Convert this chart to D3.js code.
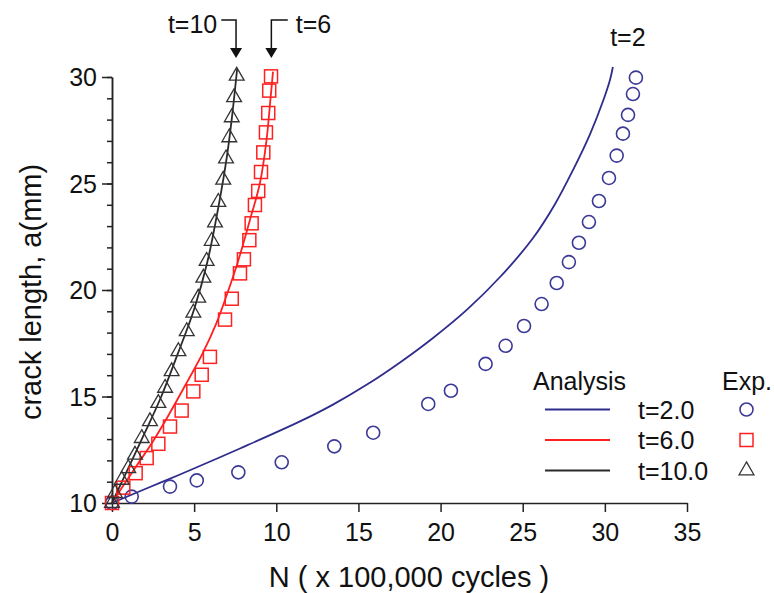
<!DOCTYPE html>
<html>
<head>
<meta charset="utf-8">
<script src="https://cdn.jsdelivr.net/npm/d3@7"></script>
<style>
  body { margin: 0; background: #fff; }
  text { font-family: "Liberation Sans", Arial, sans-serif; fill: #111; }
</style>
</head>
<body>
<div id="chart"></div>
<script>
// experimental points, N in 100,000 cycles, a in mm
var expT2N = [0, 1.20, 3.53, 5.16, 7.69, 10.33, 13.53, 15.90, 19.25, 20.63, 22.74, 23.96, 25.08, 26.15, 27.07, 27.81, 28.42, 29.03, 29.64, 30.25, 30.72, 31.10, 31.41, 31.71, 31.89]
var expT2A = [10, 10.30, 10.77, 11.06, 11.44, 11.91, 12.66, 13.30, 14.65, 15.27, 16.53, 17.38, 18.31, 19.34, 20.33, 21.31, 22.22, 23.19, 24.18, 25.26, 26.31, 27.34, 28.22, 29.20, 29.97]

var expT6N = [0, 0.69, 1.44, 2.11, 2.82, 3.53, 4.24, 4.95, 5.46, 5.96, 6.88, 7.29, 7.79, 8.03, 8.36, 8.50, 8.70, 8.90, 9.07, 9.21, 9.37, 9.51, 9.57, 9.68]
var expT6A = [10, 10.72, 11.40, 12.11, 12.78, 13.59, 14.34, 15.24, 16.02, 16.86, 18.61, 19.59, 20.78, 21.44, 22.34, 23.13, 23.99, 24.65, 25.54, 26.46, 27.40, 28.31, 29.36, 30.03]

var expT10N = [0, 0.18, 0.59, 0.99, 1.40, 1.81, 2.31, 2.82, 3.23, 3.63, 4.04, 4.55, 4.95, 5.25, 5.56, 5.76, 6.07, 6.27, 6.47, 6.77, 6.94, 7.14, 7.29, 7.43, 7.59]
var expT10A = [10, 10.46, 11.08, 11.63, 12.26, 13.04, 13.83, 14.69, 15.40, 16.18, 17.12, 18.06, 18.93, 19.63, 20.57, 21.36, 22.30, 23.16, 24.13, 25.17, 26.17, 27.16, 28.10, 29.04, 30.05]

// analysis curves
var anT2N = [0, 2.31, 4.14, 7.79, 11.44, 13.45, 15.52, 17.53, 19.54, 21.61, 23.62, 25.63, 26.97, 28.06, 29.10, 29.89, 30.31, 30.49]
var anT2A = [10, 10.75, 11.34, 12.56, 13.83, 14.62, 15.56, 16.60, 17.75, 19.08, 20.61, 22.44, 24.04, 25.63, 27.32, 28.87, 29.86, 30.47]

var anT6N = [0, 0.5, 1.5, 2.5, 3.5, 4.55, 5.5, 6.37, 7.0, 7.67, 8.4, 9.0, 9.4, 9.65, 9.8]
var anT6A = [10, 10.6, 11.75, 12.9, 14.2, 15.65, 17.0, 18.47, 19.8, 21.34, 23.3, 25.0, 27.0, 29.0, 30.25]

var anT10N = [0, 1.0, 2.0, 3.0, 4.0, 5.0, 5.8, 6.5, 7.0, 7.3, 7.62]
var anT10A = [10, 11.65, 13.3, 15.0, 17.0, 19.1, 21.3, 24.0, 26.3, 28.1, 30.4]

var xTicks = [0, 5, 10, 15, 20, 25, 30, 35]
var yTicks = [10, 15, 20, 25, 30]
var legendLabels = ["t=2.0", "t=6.0", "t=10.0"]

var blue = "#2f2c8c", red = "#ff2020", dark = "#2a2a2a"

function zip(n, a) {
    return n.map(function(d, i) { return [d, a[i]] })
}

var width = 774, height = 593

var svg = d3.select("#chart").append("svg")
    .attr("width", width)
    .attr("height", height)

var x = d3.scaleLinear().domain([0, 35]).range([112, 687])
var y = d3.scaleLinear().domain([10, 30]).range([503, 77])

// axes
var xAxis = svg.append("g")
    .attr("transform", "translate(0," + y(10) + ")")
    .call(d3.axisBottom(x).tickValues(xTicks).tickSize(9).tickSizeOuter(0).tickPadding(11))
xAxis.selectAll("text").style("font-size", "25px")

svg.append("g")
    .attr("transform", "translate(" + x(0) + ",0)")
    .call(d3.axisLeft(y).tickValues(d3.range(10, 31, 1)).tickSize(5).tickSizeOuter(0).tickFormat(""))

var yAxis = svg.append("g")
    .attr("transform", "translate(" + x(0) + ",0)")
    .call(d3.axisLeft(y).tickValues(yTicks).tickSize(10).tickSizeOuter(0).tickPadding(5))
yAxis.selectAll("text").style("font-size", "25px").attr("dy", "0.35em")

svg.selectAll(".domain, .tick line")
    .attr("stroke", "#222")
    .attr("stroke-width", 1.5)

// axis titles
svg.append("text")
    .attr("x", 409)
    .attr("y", 587)
    .attr("text-anchor", "middle")
    .style("font-size", "29px")
    .text("N ( x 100,000 cycles )")

svg.append("text")
    .attr("transform", "translate(41,292) rotate(-90)")
    .attr("text-anchor", "middle")
    .style("font-size", "29px")
    .text("crack length, a(mm)")

// analysis lines
var line = d3.line()
    .x(function(d) { return x(d[0]) })
    .y(function(d) { return y(d[1]) })
    .curve(d3.curveCatmullRom)

var curves = [
    { data: zip(anT2N, anT2A), color: blue },
    { data: zip(anT6N, anT6A), color: red },
    { data: zip(anT10N, anT10A), color: dark }
]

svg.selectAll(".curve")
    .data(curves)
    .enter().append("path")
    .attr("class", "curve")
    .attr("d", function(d) { return line(d.data) })
    .attr("fill", "none")
    .attr("stroke", function(d) { return d.color })
    .attr("stroke-width", 1.8)

// experimental markers
svg.selectAll(".c2")
    .data(zip(expT2N, expT2A))
    .enter().append("circle")
    .attr("cx", function(d) { return x(d[0]) })
    .attr("cy", function(d) { return y(d[1]) })
    .attr("r", 6.5)
    .attr("fill", "none")
    .attr("stroke", "#3b3996")
    .attr("stroke-width", 1.6)

svg.selectAll(".s6")
    .data(zip(expT6N, expT6A))
    .enter().append("rect")
    .attr("x", function(d) { return x(d[0]) - 6.5 })
    .attr("y", function(d) { return y(d[1]) - 6.5 })
    .attr("width", 13)
    .attr("height", 13)
    .attr("fill", "none")
    .attr("stroke", red)
    .attr("stroke-width", 1.5)

var tri = d3.symbol().type(d3.symbolTriangle).size(95)
svg.selectAll(".t10")
    .data(zip(expT10N, expT10A))
    .enter().append("path")
    .attr("d", tri)
    .attr("transform", function(d) { return "translate(" + x(d[0]) + "," + y(d[1]) + ")" })
    .attr("fill", "none")
    .attr("stroke", "#333")
    .attr("stroke-width", 1.3)

// callouts at the top
function callout(xTip, xLabel, label, anchor) {
    var top = 20, tipY = 58
    svg.append("path")
        .attr("d", "M" + xLabel + "," + top + "H" + xTip + "V" + (tipY - 10))
        .attr("fill", "none")
        .attr("stroke", "#111")
        .attr("stroke-width", 1.5)
    svg.append("path")
        .attr("d", "M" + (xTip - 6) + "," + (tipY - 10) + "L" + (xTip + 6) + "," + (tipY - 10) + "L" + xTip + "," + tipY + "Z")
        .attr("fill", "#111")
    svg.append("text")
        .attr("x", anchor == "end" ? xLabel - 4 : xLabel + 8)
        .attr("y", 33)
        .attr("text-anchor", anchor)
        .style("font-size", "25px")
        .text(label)
}
callout(x(7.55), x(6.65), "t=10", "end")
callout(x(9.7), x(10.7), "t=6", "start")

svg.append("text")
    .attr("x", x(31.4))
    .attr("y", 46)
    .attr("text-anchor", "middle")
    .style("font-size", "25px")
    .text("t=2")

// legend
var lg = svg.append("g")
lg.append("text").attr("x", 533).attr("y", 390).style("font-size", "25px").text("Analysis")
lg.append("text").attr("x", 722).attr("y", 390).style("font-size", "25px").text("Exp.")

var rows = lg.selectAll(".row")
    .data(legendLabels)
    .enter().append("g")
    .attr("transform", function(d, i) { return "translate(0," + (409.5 + i * 30.5) + ")" })

rows.append("line")
    .attr("x1", 545).attr("x2", 610)
    .attr("stroke", function(d, i) { return curves[i].color })
    .attr("stroke-width", 1.8)

rows.append("text")
    .attr("x", 638)
    .attr("dy", "0.36em")
    .style("font-size", "25px")
    .text(function(d) { return d })

rows.filter(function(d, i) { return i == 0 }).append("circle")
    .attr("cx", 746.5).attr("r", 6.5)
    .attr("fill", "none").attr("stroke", "#3b3996").attr("stroke-width", 1.6)
rows.filter(function(d, i) { return i == 1 }).append("rect")
    .attr("x", 740).attr("y", -6.5).attr("width", 13).attr("height", 13)
    .attr("fill", "none").attr("stroke", red).attr("stroke-width", 1.5)
rows.filter(function(d, i) { return i == 2 }).append("path")
    .attr("d", tri).attr("transform", "translate(746.5,0)")
    .attr("fill", "none").attr("stroke", "#333").attr("stroke-width", 1.3)
</script>
</body>
</html>
